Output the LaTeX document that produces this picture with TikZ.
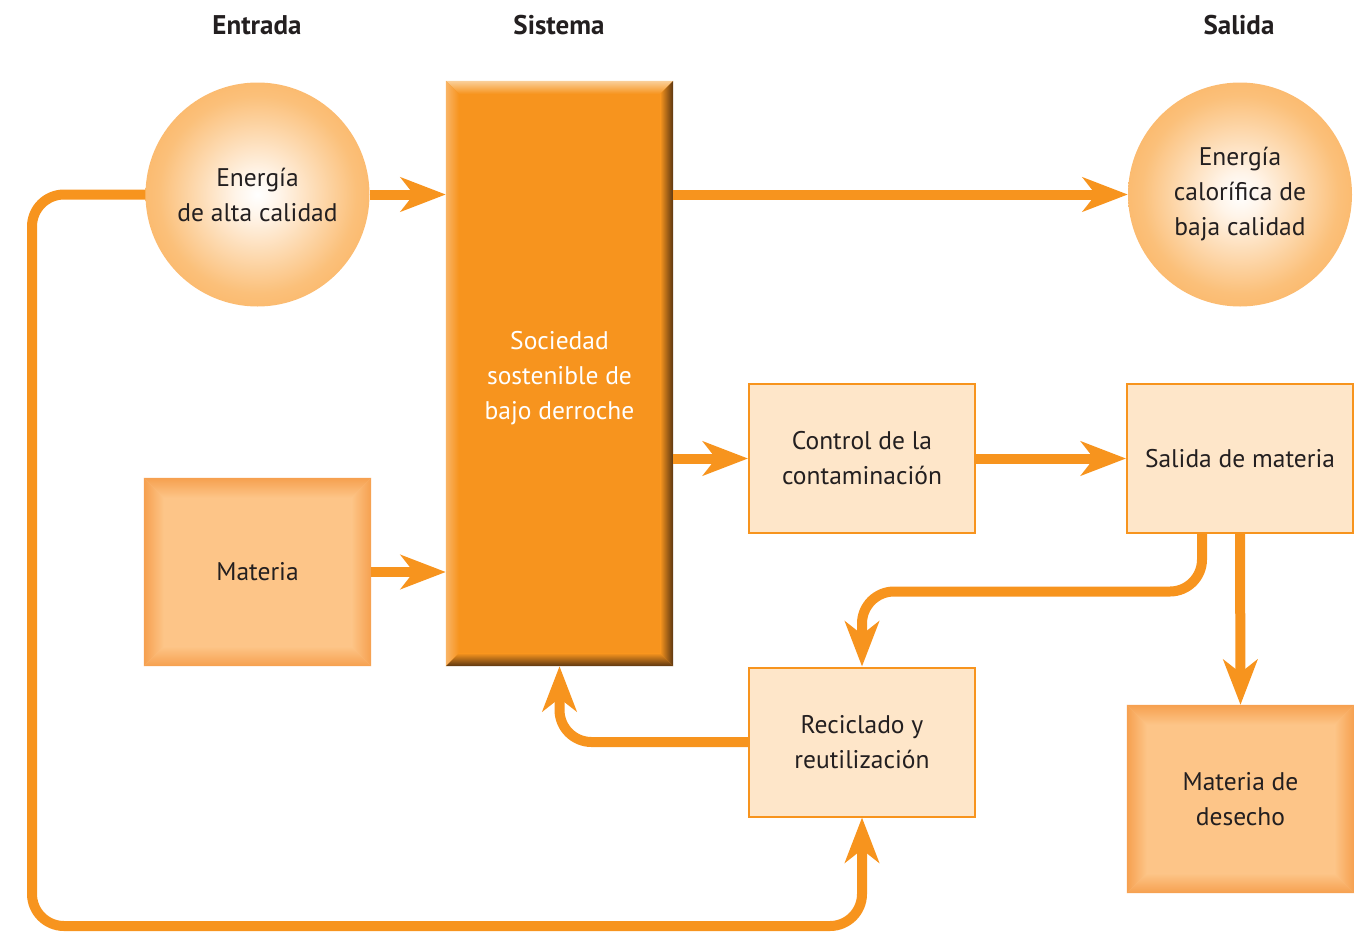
\documentclass[tikz,border=0pt]{standalone}
\usepackage{fontspec}
\setmainfont{PT Sans}
\usetikzlibrary{arrows.meta}
\definecolor{corange}{HTML}{F7941E}
\definecolor{cpale}{HTML}{FEE6C9}
\definecolor{cmat}{HTML}{FDC588}
\definecolor{cmatedge}{HTML}{F6A04F}
\definecolor{ctext}{HTML}{231F20}
\definecolor{cbrown}{HTML}{5A3510}
\definecolor{clight}{HTML}{FAD09A}
\definecolor{cleft}{HTML}{F9B466}
\definecolor{cb1}{HTML}{FFF4E8}
\definecolor{cb2}{HTML}{FBC07A}
\definecolor{cb3}{HTML}{F9A647}
\pgfdeclareradialshading{eball}{\pgfpoint{0bp}{0bp}}{color(0bp)=(white); color(5bp)=(cb1); color(22bp)=(cb2); color(38bp)=(cb3); color(50bp)=(corange)}
\newcommand\mybevel[7]{%
 \shade[top color=#3, bottom color=#7] (#1.north west) -- (#1.north east) -- ([shift={(-#2,#2)}]#1.north east) -- ([shift={(#2,#2)}]#1.north west) -- cycle;
 \shade[left color=#4, right color=#7] (#1.north west) -- ([shift={(#2,#2)}]#1.north west) -- ([shift={(#2,-#2)}]#1.south west) -- (#1.south west) -- cycle;
 \shade[left color=#7, right color=#5] (#1.north east) -- (#1.south east) -- ([shift={(-#2,-#2)}]#1.south east) -- ([shift={(-#2,#2)}]#1.north east) -- cycle;
 \shade[top color=#7, bottom color=#6] (#1.south west) -- (#1.south east) -- ([shift={(-#2,-#2)}]#1.south east) -- ([shift={(#2,-#2)}]#1.south west) -- cycle;
}
\begin{document}
\begin{tikzpicture}[x=1pt,y=-1pt,
  txt/.style={font=\fontsize{25.5}{35}\selectfont, text=ctext, align=center},
  ttl/.style={font=\bfseries\fontsize{27}{30}\selectfont, text=ctext},
  ball/.style={circle, minimum size=224pt, inner sep=0pt, shade, shading=eball, txt},
  palebox/.style={rectangle, draw=corange, line width=2pt, fill=cpale, minimum width=226pt, minimum height=149pt, inner sep=0pt, txt},
  matbox/.style={rectangle, fill=cmat, minimum width=227pt, minimum height=188pt, inner sep=0pt, txt},
  flow/.style={draw=corange, line width=10pt, rounded corners=32pt, -{Stealth[length=45pt,width=34pt,inset=13pt]}},
]
\useasboundingbox (0,0) rectangle (1362,932);
\node[ttl] (tin) at (257,25) {Entrada};
\node[ttl] (tsis) at (559,25) {Sistema};
\node[ttl] (tout) at (1239,25) {Salida};
\node[ball] (ein) at (257.5,194.5) {Energía\\de alta calidad};
\node[ball] (eout) at (1240,194.5) {Energía\\calorífica de\\baja calidad};
\node[rectangle, fill=corange, minimum width=227pt, minimum height=585pt, inner sep=0pt] (sis) at (559.5,373.5) {};
\mybevel{sis}{13}{clight}{cleft}{cbrown}{cbrown}{corange}
\node[txt, text=white] (sistxt) at (559.5,378) {Sociedad\\sostenible de\\bajo derroche};
\node[matbox] (mat) at (257.5,572) {Materia};
\mybevel{mat}{20}{cmatedge}{cmatedge}{cmatedge}{cmatedge}{cmat}
\node[matbox] (dese) at (1240.5,799) {Materia de\\desecho};
\mybevel{dese}{20}{cmatedge}{cmatedge}{cmatedge}{cmatedge}{cmat}
\node[palebox] (ctrl) at (862,458.5) {Control de la\\contaminación};
\node[palebox] (smat) at (1240,458.5) {Salida de materia};
\node[palebox] (rec) at (862,742) {Reciclado y\\reutilización};
\coordinate (s1) at ([xshift=-38pt]smat.south);
\coordinate (lx) at (32,926);
\draw[flow] (ein.east) -- (ein.east -| sis.west);
\draw[flow] (eout.west -| sis.east) -- (eout.west);
\draw[flow] (mat.east) -- (mat.east -| sis.west);
\draw[flow] (ctrl.west -| sis.east) -- (ctrl.west);
\draw[flow] (ctrl.east) -- (smat.west);
\draw[flow] (smat.south) -- (dese.north);
\draw[flow] (s1) |- ([yshift=75pt]rec.north) -- (rec.north);
\draw[flow] (rec.west) -| (sis.south);
\draw[flow] (ein.west) -| (lx) -| (rec.south);
\end{tikzpicture}
\end{document}
